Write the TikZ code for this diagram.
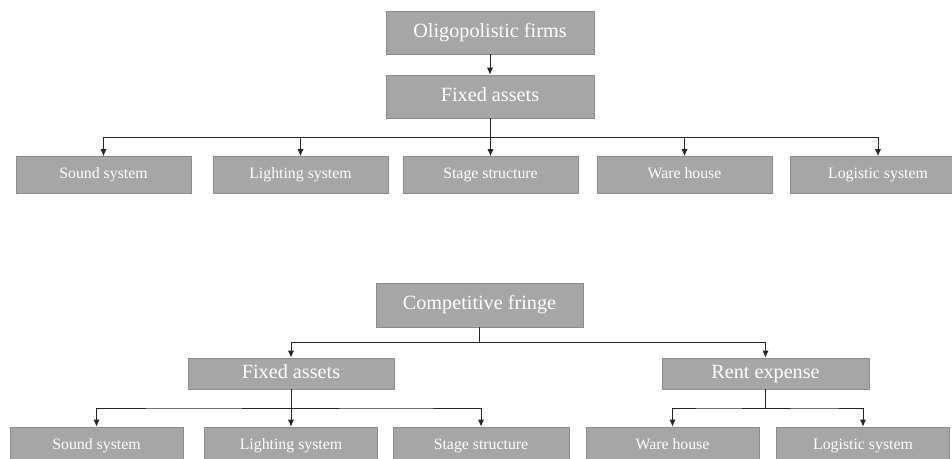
\documentclass[tikz,border=0pt]{standalone}
\usepackage{fontspec}
\setmainfont{Liberation Serif}
\usetikzlibrary{arrows.meta,calc}
\begin{document}
\begin{tikzpicture}[box/.style={draw=black!45,fill=black!35,text=white,inner sep=0pt,minimum width=3.5cm,minimum height=0.74cm,text height=6.3pt,text depth=1.9pt,font=\fontsize{9}{10}\selectfont},
big/.style={box,minimum width=4.16cm,minimum height=0.86cm,text height=8pt,text depth=2.4pt,font=\fontsize{11.5}{13}\selectfont},
arr/.style={draw=black!85,line width=0.5pt,-{Latex[length=4pt,width=3.5pt]}},
elbow/.style={to path={(\tikztostart) |- ($(\tikztostart)!.5!(\tikztotarget)$) -| (\tikztotarget)}}]
\clip (0,0) rectangle (19.04,9.18);
% oligopolistic firms
\node[big] (o) at (9.80,8.53) {Oligopolistic firms};
\node[big] (f) at (9.80,7.25) {Fixed assets};
\node[box] (f1) at (2.07,5.68) {Sound system};
\node[box] (f2) at (6.01,5.68) {Lighting system};
\node[box] (f3) at (9.81,5.68) {Stage structure};
\node[box] (f4) at (13.69,5.68) {Ware house};
\node[box] (f5) at (17.56,5.68) {Logistic system};
\draw[arr] (o) -- (f);
\foreach \n in {1,...,5} \draw[arr] (f.south) to[elbow] (f\n.north);
% competitive fringe
\node[big,minimum width=4.14cm,minimum height=0.88cm] (c) at (9.59,3.08) {Competitive fringe};
\node[big,minimum width=4.12cm,minimum height=0.62cm] (a) at (5.82,1.71) {Fixed assets};
\node[big,minimum width=4.14cm,minimum height=0.62cm] (e) at (15.31,1.71) {Rent expense};
\node[box,minimum width=3.46cm] (a1) at (1.93,0.27) {Sound system};
\node[box,minimum width=3.46cm] (a2) at (5.82,0.27) {Lighting system};
\node[box,minimum width=3.52cm] (a3) at (9.62,0.27) {Stage structure};
\node[box,minimum width=3.46cm] (e1) at (13.45,0.27) {Ware house};
\node[box,minimum width=3.46cm] (e2) at (17.26,0.27) {Logistic system};
\draw[arr] (c.south) to[elbow] (a.north);
\draw[arr] (c.south) to[elbow] (e.north);
\foreach \n in {1,2,3} \draw[arr] (a.south) to[elbow] (a\n.north);
\foreach \n in {1,2} \draw[arr] (e.south) to[elbow] (e\n.north);
\end{tikzpicture}
\end{document}
